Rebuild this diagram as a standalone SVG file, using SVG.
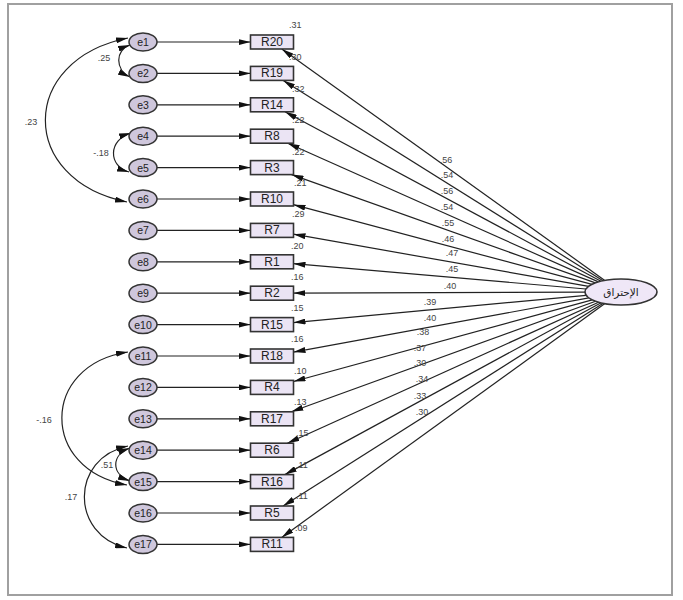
<svg xmlns="http://www.w3.org/2000/svg" width="683" height="600" viewBox="0 0 683 600">
<style>
  .frame{fill:#fff;stroke:#a0a0a0;stroke-width:2}
  .err ellipse{fill:#cfc7dc;stroke:#333;stroke-width:1.5}
  .obs rect{fill:#ebe4f4;stroke:#333;stroke-width:1.6}
  .lat ellipse{fill:#efe7f7;stroke:#333;stroke-width:1.6}
  .lbl{font-family:"Liberation Sans",Arial,sans-serif;font-size:10.5px;fill:#222;text-anchor:middle;dominant-baseline:central}
  .obs .lbl{font-size:12px}
  .num{font-family:"Liberation Sans",Arial,sans-serif;font-size:9px;fill:#444}
  .c line,.c path{stroke:#222;stroke-width:1.2;fill:none}
  .c line{marker-end:url(#ah)}
  .c path{marker-start:url(#ah);marker-end:url(#ah)}
</style>
<defs>
  <marker id="ah" viewBox="0 0 12 6" refX="12" refY="3" markerWidth="12" markerHeight="6" markerUnits="userSpaceOnUse" orient="auto-start-reverse">
    <path d="M0,0 L12,3 L0,6 z" fill="#111"/>
  </marker>
</defs>
<rect class="frame" x="8" y="4" width="664" height="591"/>

<g id="connectors" class="c">
  <line x1="157" y1="42" x2="250.5" y2="42"/>
  <line x1="157" y1="73.4" x2="250.5" y2="73.4"/>
  <line x1="157" y1="104.8" x2="250.5" y2="104.8"/>
  <line x1="157" y1="136.2" x2="250.5" y2="136.2"/>
  <line x1="157" y1="167.6" x2="250.5" y2="167.6"/>
  <line x1="157" y1="199" x2="250.5" y2="199"/>
  <line x1="157" y1="230.4" x2="250.5" y2="230.4"/>
  <line x1="157" y1="261.8" x2="250.5" y2="261.8"/>
  <line x1="157" y1="293.2" x2="250.5" y2="293.2"/>
  <line x1="157" y1="324.6" x2="250.5" y2="324.6"/>
  <line x1="157" y1="356" x2="250.5" y2="356"/>
  <line x1="157" y1="387.4" x2="250.5" y2="387.4"/>
  <line x1="157" y1="418.8" x2="250.5" y2="418.8"/>
  <line x1="157" y1="450.2" x2="250.5" y2="450.2"/>
  <line x1="157" y1="481.6" x2="250.5" y2="481.6"/>
  <line x1="157" y1="513" x2="250.5" y2="513"/>
  <line x1="157" y1="544.4" x2="250.5" y2="544.4"/>
  <line x1="604.8" y1="280.4" x2="281.8" y2="49"/>
  <line x1="603" y1="280.7" x2="283.2" y2="80.4"/>
  <line x1="600.9" y1="281.2" x2="285" y2="111.8"/>
  <line x1="598.4" y1="281.9" x2="287.7" y2="143.2"/>
  <line x1="595.4" y1="282.9" x2="291.6" y2="174.6"/>
  <line x1="592" y1="284.3" x2="293.5" y2="204.7"/>
  <line x1="588.7" y1="286.3" x2="293.5" y2="234.2"/>
  <line x1="586" y1="289" x2="293.5" y2="263.7"/>
  <line x1="585" y1="292.1" x2="293.5" y2="293.1"/>
  <line x1="586.1" y1="295.3" x2="293.5" y2="322.6"/>
  <line x1="588.9" y1="297.9" x2="293.5" y2="352.1"/>
  <line x1="592.3" y1="299.8" x2="293.5" y2="381.5"/>
  <line x1="595.6" y1="301.2" x2="291.3" y2="411.8"/>
  <line x1="598.6" y1="302.2" x2="287.4" y2="443.2"/>
  <line x1="601.1" y1="302.8" x2="284.9" y2="474.6"/>
  <line x1="603.2" y1="303.3" x2="283.1" y2="506"/>
  <line x1="604.9" y1="303.6" x2="281.7" y2="537.4"/>
  <path d="M130,45 C115,50 115,70 130,77"/>
  <path d="M131,133 C108,140 108,166 129,172"/>
  <path d="M128,38 C18,60 18,180 127,202"/>
  <path d="M128,352 C40,365 40,470 127,485"/>
  <path d="M128,446 C70,458 70,535 127,548"/>
  <path d="M130,448 C111,455 111,474 130,481"/>
</g>

<g id="labels-cov">
  <text class="num" x="104" y="61" text-anchor="middle">.25</text>
  <text class="num" x="101" y="156" text-anchor="middle">-.18</text>
  <text class="num" x="31" y="125" text-anchor="middle">.23</text>
  <text class="num" x="44" y="423" text-anchor="middle">-.16</text>
  <text class="num" x="71" y="500" text-anchor="middle">.17</text>
  <text class="num" x="107" y="468" text-anchor="middle">.51</text>
</g>

<g id="labels-loadings" class="num" text-anchor="middle">
  <text x="446" y="163">.56</text>
  <text x="447" y="178">.54</text>
  <text x="447" y="194">.56</text>
  <text x="447" y="210">.54</text>
  <text x="448" y="226">.55</text>
  <text x="448" y="242">.46</text>
  <text x="452" y="256">.47</text>
  <text x="452" y="272">.45</text>
  <text x="450" y="289">.40</text>
  <text x="430" y="305">.39</text>
  <text x="430" y="321">.40</text>
  <text x="423" y="335">.38</text>
  <text x="420" y="351">.37</text>
  <text x="420" y="366">.30</text>
  <text x="422" y="382">.34</text>
  <text x="420" y="399">.33</text>
  <text x="422" y="415">.30</text>
</g>

<g id="labels-r2" class="num">
  <text x="289" y="28">.31</text>
  <text x="289" y="60">.30</text>
  <text x="292" y="92">.32</text>
  <text x="292" y="123">.22</text>
  <text x="292" y="155">.22</text>
  <text x="294" y="186">.21</text>
  <text x="292" y="217">.29</text>
  <text x="291" y="249">.20</text>
  <text x="291" y="280">.16</text>
  <text x="291" y="311">.15</text>
  <text x="291" y="342">.16</text>
  <text x="294" y="374">.10</text>
  <text x="294" y="405">.13</text>
  <text x="296" y="436">.15</text>
  <text x="296" y="468">.11</text>
  <text x="296" y="499">.11</text>
  <text x="295" y="531">.09</text>
</g>

<g id="e1" class="err"><ellipse cx="143" cy="42" rx="14" ry="9"/><text class="lbl" x="143" y="42">e1</text></g>
<g id="e2" class="err"><ellipse cx="143" cy="73.4" rx="14" ry="9"/><text class="lbl" x="143" y="73.4">e2</text></g>
<g id="e3" class="err"><ellipse cx="143" cy="104.8" rx="14" ry="9"/><text class="lbl" x="143" y="104.8">e3</text></g>
<g id="e4" class="err"><ellipse cx="143" cy="136.2" rx="14" ry="9"/><text class="lbl" x="143" y="136.2">e4</text></g>
<g id="e5" class="err"><ellipse cx="143" cy="167.6" rx="14" ry="9"/><text class="lbl" x="143" y="167.6">e5</text></g>
<g id="e6" class="err"><ellipse cx="143" cy="199" rx="14" ry="9"/><text class="lbl" x="143" y="199">e6</text></g>
<g id="e7" class="err"><ellipse cx="143" cy="230.4" rx="14" ry="9"/><text class="lbl" x="143" y="230.4">e7</text></g>
<g id="e8" class="err"><ellipse cx="143" cy="261.8" rx="14" ry="9"/><text class="lbl" x="143" y="261.8">e8</text></g>
<g id="e9" class="err"><ellipse cx="143" cy="293.2" rx="14" ry="9"/><text class="lbl" x="143" y="293.2">e9</text></g>
<g id="e10" class="err"><ellipse cx="143" cy="324.6" rx="14" ry="9"/><text class="lbl" x="143" y="324.6">e10</text></g>
<g id="e11" class="err"><ellipse cx="143" cy="356" rx="14" ry="9"/><text class="lbl" x="143" y="356">e11</text></g>
<g id="e12" class="err"><ellipse cx="143" cy="387.4" rx="14" ry="9"/><text class="lbl" x="143" y="387.4">e12</text></g>
<g id="e13" class="err"><ellipse cx="143" cy="418.8" rx="14" ry="9"/><text class="lbl" x="143" y="418.8">e13</text></g>
<g id="e14" class="err"><ellipse cx="143" cy="450.2" rx="14" ry="9"/><text class="lbl" x="143" y="450.2">e14</text></g>
<g id="e15" class="err"><ellipse cx="143" cy="481.6" rx="14" ry="9"/><text class="lbl" x="143" y="481.6">e15</text></g>
<g id="e16" class="err"><ellipse cx="143" cy="513" rx="14" ry="9"/><text class="lbl" x="143" y="513">e16</text></g>
<g id="e17" class="err"><ellipse cx="143" cy="544.4" rx="14" ry="9"/><text class="lbl" x="143" y="544.4">e17</text></g>

<g id="R20" class="obs"><rect x="250.5" y="35" width="43" height="14"/><text class="lbl" x="272" y="42">R20</text></g>
<g id="R19" class="obs"><rect x="250.5" y="66.4" width="43" height="14"/><text class="lbl" x="272" y="73.4">R19</text></g>
<g id="R14" class="obs"><rect x="250.5" y="97.8" width="43" height="14"/><text class="lbl" x="272" y="104.8">R14</text></g>
<g id="R8" class="obs"><rect x="250.5" y="129.2" width="43" height="14"/><text class="lbl" x="272" y="136.2">R8</text></g>
<g id="R3" class="obs"><rect x="250.5" y="160.6" width="43" height="14"/><text class="lbl" x="272" y="167.6">R3</text></g>
<g id="R10" class="obs"><rect x="250.5" y="192" width="43" height="14"/><text class="lbl" x="272" y="199">R10</text></g>
<g id="R7" class="obs"><rect x="250.5" y="223.4" width="43" height="14"/><text class="lbl" x="272" y="230.4">R7</text></g>
<g id="R1" class="obs"><rect x="250.5" y="254.8" width="43" height="14"/><text class="lbl" x="272" y="261.8">R1</text></g>
<g id="R2" class="obs"><rect x="250.5" y="286.2" width="43" height="14"/><text class="lbl" x="272" y="293.2">R2</text></g>
<g id="R15" class="obs"><rect x="250.5" y="317.6" width="43" height="14"/><text class="lbl" x="272" y="324.6">R15</text></g>
<g id="R18" class="obs"><rect x="250.5" y="349" width="43" height="14"/><text class="lbl" x="272" y="356">R18</text></g>
<g id="R4" class="obs"><rect x="250.5" y="380.4" width="43" height="14"/><text class="lbl" x="272" y="387.4">R4</text></g>
<g id="R17" class="obs"><rect x="250.5" y="411.8" width="43" height="14"/><text class="lbl" x="272" y="418.8">R17</text></g>
<g id="R6" class="obs"><rect x="250.5" y="443.2" width="43" height="14"/><text class="lbl" x="272" y="450.2">R6</text></g>
<g id="R16" class="obs"><rect x="250.5" y="474.6" width="43" height="14"/><text class="lbl" x="272" y="481.6">R16</text></g>
<g id="R5" class="obs"><rect x="250.5" y="506" width="43" height="14"/><text class="lbl" x="272" y="513">R5</text></g>
<g id="R11" class="obs"><rect x="250.5" y="537.4" width="43" height="14"/><text class="lbl" x="272" y="544.4">R11</text></g>

<g id="burnout" class="lat">
  <ellipse cx="621" cy="292" rx="36" ry="13"/>
  <text x="621" y="292" style="font-family:'DejaVu Sans','Noto Sans',sans-serif;font-size:10.5px;fill:#222;text-anchor:middle;dominant-baseline:central" direction="rtl">الإحتراق</text>
</g>
</svg>
